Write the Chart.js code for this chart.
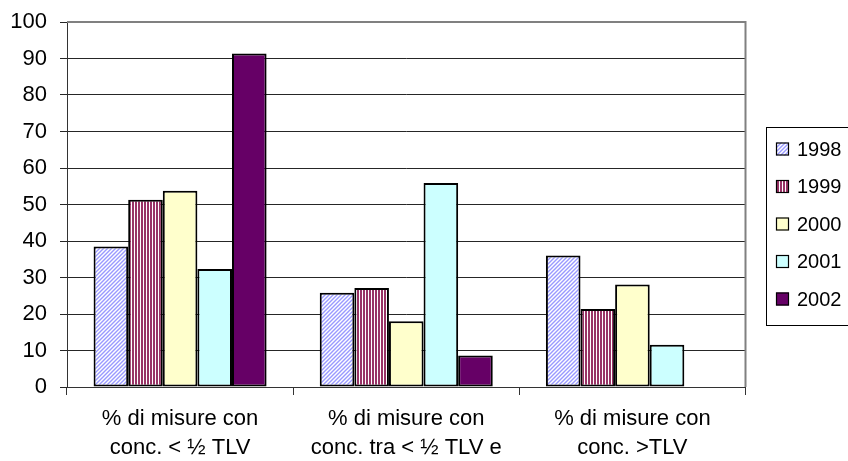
<!DOCTYPE html>
<html>
<head>
<meta charset="utf-8">
<script src="https://cdn.jsdelivr.net/npm/chart.js@4/dist/chart.umd.min.js"></script>
<style>
  html, body { margin: 0; padding: 0; background: #fff; }
  #wrap { width: 848px; height: 461px; }
</style>
</head>
<body>
<div id="wrap"><canvas id="c" width="848" height="461"></canvas></div>
<script>
// Categories (two-line labels) and yearly series, in percent
const categories = [
  ['% di misure con', 'conc. < \u00BD TLV'],
  ['% di misure con', 'conc. tra < \u00BD TLV e'],
  ['% di misure con', 'conc. >TLV']
];
const years = ['1998', '1999', '2000', '2001', '2002'];
const v1998 = [38.5, 25.8, 36.0];
const v1999 = [51.3, 27.1, 21.4];
const v2000 = [53.8, 18.0, 28.1];
const v2001 = [32.3, 55.9, 11.6];
const v2002 = [91.4, 8.6, 0];
const yTicks = [0, 10, 20, 30, 40, 50, 60, 70, 80, 90, 100];

const FONT = '"Liberation Sans", Arial, sans-serif';

// Hatched fills
function diagonalPattern(color) {
  const t = document.createElement('canvas');
  t.width = 4; t.height = 4;
  const g = t.getContext('2d');
  g.fillStyle = '#ffffff';
  g.fillRect(0, 0, 4, 4);
  g.strokeStyle = color;
  g.lineWidth = 1.4;
  g.beginPath();
  g.moveTo(-1, 5); g.lineTo(5, -1);
  g.moveTo(-1, 1); g.lineTo(1, -1);
  g.moveTo(3, 5); g.lineTo(5, 3);
  g.stroke();
  return document.getElementById('c').getContext('2d').createPattern(t, 'repeat');
}
function verticalPattern(color) {
  const t = document.createElement('canvas');
  t.width = 3; t.height = 3;
  const g = t.getContext('2d');
  g.fillStyle = '#ffffff';
  g.fillRect(0, 0, 3, 3);
  g.fillStyle = color;
  g.fillRect(0, 0, 2, 3);
  return document.getElementById('c').getContext('2d').createPattern(t, 'repeat');
}

const fills = [
  diagonalPattern('#9999ff'),
  verticalPattern('#993366'),
  '#ffffcc',
  '#ccffff',
  '#660066'
];
const series = [v1998, v1999, v2000, v2001, v2002];

const datasets = years.map((y, i) => ({
  label: y,
  data: series[i],
  backgroundColor: fills[i],
  borderColor: '#000000',
  borderWidth: 2,
  borderSkipped: false,
  categoryPercentage: 0.765,
  barPercentage: 1.0
}));

// Boxed legend on the right plus the grey plot frame
const frameAndLegend = {
  id: 'frameAndLegend',
  beforeDatasetsDraw(chart) {
    const { ctx, chartArea: a } = chart;
    ctx.save();
    ctx.strokeStyle = '#808080';
    ctx.lineWidth = 2;
    ctx.beginPath();
    ctx.moveTo(a.left, a.top);
    ctx.lineTo(a.right, a.top);
    ctx.lineTo(a.right, a.bottom);
    ctx.stroke();
    ctx.restore();
  },
  afterDraw(chart) {
    const { ctx } = chart;
    const x0 = 766.5, y0 = 127.5, h = 198;
    ctx.save();
    ctx.fillStyle = '#ffffff';
    ctx.fillRect(x0, y0, 848 - x0 + 5, h);
    ctx.strokeStyle = '#000000';
    ctx.lineWidth = 1;
    ctx.strokeRect(x0, y0, 848 - x0 + 5, h);
    ctx.font = '20px ' + FONT;
    ctx.textBaseline = 'middle';
    ctx.textAlign = 'left';
    chart.data.datasets.forEach((ds, i) => {
      const cy = 149 + i * 37.5;
      ctx.fillStyle = ds.backgroundColor;
      ctx.fillRect(776, cy - 6.5, 13, 13);
      ctx.strokeStyle = '#000000';
      ctx.lineWidth = 1.2;
      ctx.strokeRect(776.5, cy - 6, 12, 12);
      ctx.fillStyle = '#000000';
      ctx.fillText(ds.label, 797, cy + 1);
    });
    ctx.restore();
  }
};

new Chart(document.getElementById('c'), {
  type: 'bar',
  data: { labels: categories, datasets },
  options: {
    responsive: false,
    animation: false,
    devicePixelRatio: 1,
    layout: { padding: { left: 0, right: 102.5, top: 22, bottom: 0 } },
    plugins: { legend: { display: false }, tooltip: { enabled: false } },
    scales: {
      x: {
        grid: {
          offset: true,
          drawOnChartArea: false,
          drawTicks: true,
          tickLength: 8,
          color: '#333333',
          lineWidth: 1
        },
        border: { display: true, color: '#333333', width: 1 },
        ticks: {
          color: '#000000',
          font: { family: FONT, size: 22, lineHeight: 1.32 },
          padding: 9,
          maxRotation: 0,
          autoSkip: false
        },
        afterFit(scale) {
          scale.height = 74;
          scale.paddingLeft = 0;
          scale.paddingRight = 0;
        }
      },
      y: {
        min: 0,
        max: 100,
        afterBuildTicks(scale) { scale.ticks = yTicks.map(v => ({ value: v })); },
        grid: {
          color: '#262626',
          lineWidth: 1,
          drawTicks: true,
          tickLength: 7
        },
        border: { display: true, color: '#333333', width: 1 },
        ticks: {
          color: '#000000',
          font: { family: FONT, size: 22 },
          padding: 13
        },
        afterFit(scale) {
          scale.width = 67;
          scale.paddingTop = 0;
          scale.paddingBottom = 0;
        }
      }
    }
  },
  plugins: [frameAndLegend]
});
</script>
</body>
</html>
